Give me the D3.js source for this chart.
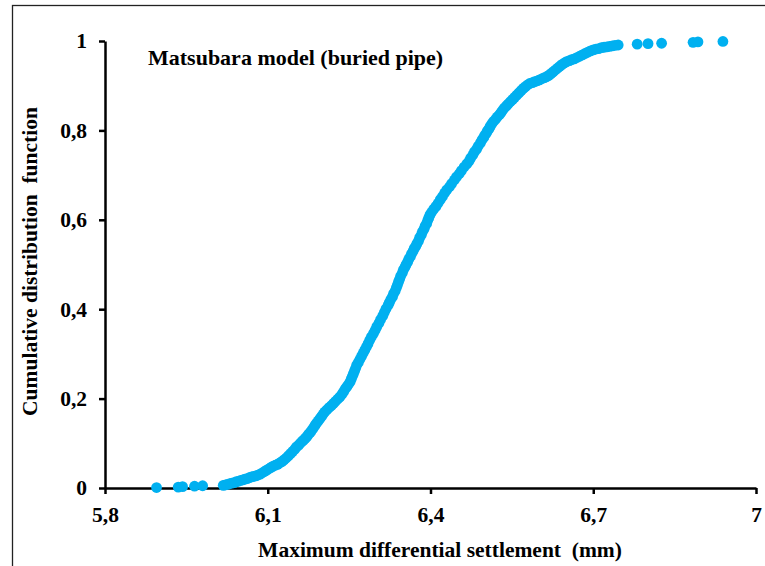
<!DOCTYPE html>
<html>
<head>
<meta charset="utf-8">
<script src="https://cdn.jsdelivr.net/npm/d3@7"></script>
<style>
  html, body { margin: 0; padding: 0; background: #fff; }
  svg text { font-family: "Liberation Serif", "Times New Roman", serif; font-weight: bold; fill: #000; }
</style>
</head>
<body>
<div id="chart"></div>
<script>
// settlement (mm) and cumulative distribution values
const settlement = [
  5.895, 5.935, 5.943, 5.965, 5.980,
  6.018, 6.022, 6.026, 6.030, 6.034, 6.038, 6.042, 6.046, 6.050, 6.054,
  6.058, 6.062, 6.066, 6.070, 6.074, 6.078, 6.082, 6.086, 6.090, 6.094,
  6.098, 6.102, 6.106, 6.110, 6.114, 6.118, 6.122, 6.126, 6.130, 6.134,
  6.138, 6.142, 6.146, 6.150, 6.153,
  6.157, 6.160, 6.163, 6.166, 6.169, 6.172, 6.175, 6.178, 6.181, 6.184,
  6.187, 6.190, 6.193, 6.196, 6.199, 6.202, 6.205, 6.209, 6.213, 6.217,
  6.221, 6.225, 6.229, 6.233, 6.237, 6.240, 6.243, 6.246, 6.249, 6.252,
  6.254, 6.256, 6.258, 6.260, 6.262, 6.264, 6.267, 6.270, 6.273, 6.276,
  6.279, 6.282, 6.285, 6.288, 6.291, 6.295, 6.298, 6.301, 6.305, 6.308,
  6.312, 6.315, 6.318, 6.322,
  6.324, 6.327, 6.330, 6.332, 6.335, 6.337, 6.339, 6.341, 6.343, 6.345,
  6.348, 6.350, 6.353, 6.355, 6.358, 6.360, 6.363, 6.365, 6.368, 6.370,
  6.373, 6.375, 6.378, 6.380, 6.383, 6.385, 6.388, 6.390, 6.393, 6.395,
  6.397, 6.399,
  6.402, 6.406, 6.410, 6.414, 6.418, 6.422, 6.426, 6.430, 6.435, 6.439,
  6.444, 6.448, 6.453, 6.457, 6.462, 6.467, 6.471, 6.474, 6.478, 6.481,
  6.485, 6.488, 6.492, 6.495, 6.498, 6.500, 6.503, 6.505, 6.508, 6.510,
  6.513, 6.516, 6.520, 6.523, 6.527, 6.530, 6.533, 6.536, 6.540, 6.543,
  6.547, 6.551, 6.555, 6.559, 6.563, 6.567, 6.571, 6.575, 6.579, 6.583,
  6.588, 6.592, 6.597, 6.601, 6.606, 6.610, 6.614, 6.618, 6.622, 6.626,
  6.630, 6.634, 6.638, 6.642, 6.647, 6.651, 6.656, 6.660, 6.665, 6.670,
  6.675, 6.680, 6.685, 6.690, 6.695, 6.700, 6.705, 6.710, 6.715, 6.720,
  6.725, 6.730, 6.735, 6.740, 6.746,
  6.781, 6.801, 6.826, 6.884, 6.893, 6.939
];
const cdf = [
  0.001, 0.002, 0.003, 0.004, 0.005,
  0.006, 0.007, 0.008, 0.010, 0.011, 0.012, 0.014, 0.015, 0.017, 0.018,
  0.020, 0.021, 0.023, 0.025, 0.026, 0.027, 0.029, 0.031, 0.034, 0.037,
  0.040, 0.043, 0.046, 0.049, 0.051, 0.053, 0.056, 0.059, 0.063, 0.067,
  0.072, 0.077, 0.082, 0.087, 0.092,
  0.096, 0.100, 0.104, 0.107, 0.111, 0.115, 0.120, 0.124, 0.129, 0.134,
  0.140, 0.145, 0.150, 0.155, 0.160, 0.165, 0.170, 0.175, 0.180, 0.184,
  0.189, 0.194, 0.199, 0.204, 0.210, 0.216, 0.222, 0.227, 0.232, 0.238,
  0.244, 0.250, 0.256, 0.262, 0.268, 0.275, 0.281, 0.288, 0.295, 0.302,
  0.309, 0.316, 0.323, 0.331, 0.338, 0.346, 0.353, 0.361, 0.369, 0.377,
  0.385, 0.393, 0.401, 0.409,
  0.415, 0.422, 0.428, 0.435, 0.441, 0.448, 0.454, 0.461, 0.467, 0.474,
  0.481, 0.488, 0.494, 0.500, 0.506, 0.512, 0.518, 0.524, 0.530, 0.536,
  0.541, 0.547, 0.553, 0.560, 0.566, 0.573, 0.579, 0.586, 0.592, 0.599,
  0.605, 0.611,
  0.617, 0.624, 0.630, 0.637, 0.645, 0.652, 0.660, 0.667, 0.674, 0.681,
  0.689, 0.696, 0.703, 0.710, 0.718, 0.725, 0.731, 0.738, 0.745, 0.752,
  0.758, 0.765, 0.772, 0.779, 0.784, 0.789, 0.794, 0.799, 0.804, 0.809,
  0.815, 0.820, 0.825, 0.830, 0.835, 0.840, 0.845, 0.850, 0.855, 0.859,
  0.864, 0.869, 0.874, 0.879, 0.884, 0.889, 0.894, 0.898, 0.902, 0.905,
  0.907, 0.909, 0.911, 0.913, 0.916, 0.918, 0.920, 0.923, 0.927, 0.931,
  0.935, 0.939, 0.943, 0.947, 0.951, 0.954, 0.956, 0.958, 0.960, 0.963,
  0.966, 0.969, 0.972, 0.975, 0.978, 0.980, 0.982, 0.983, 0.985, 0.986,
  0.987, 0.988, 0.989, 0.990, 0.991,
  0.993, 0.994, 0.995, 0.997, 0.998, 0.999
];
const xTicks = [5.8, 6.1, 6.4, 6.7, 7];
const yTicks = [0, 0.2, 0.4, 0.6, 0.8, 1];

const width = 765, height = 566;
const svg = d3.select("#chart").append("svg")
  .attr("width", width).attr("height", height);

// outer frame (runs off the right and bottom edges)
svg.append("rect")
  .attr("x", 12.5).attr("y", 5.5)
  .attr("width", 900).attr("height", 700)
  .attr("fill", "none").attr("stroke", "#222").attr("stroke-width", 1.3);

const x = d3.scaleLinear().domain([5.8, 7]).range([105, 756]);
const y = d3.scaleLinear().domain([0, 1]).range([488, 41]);
const fmt = d => String(d).replace(".", ",");

const xAxis = svg.append("g")
  .attr("transform", `translate(0,${y(0)})`)
  .call(d3.axisBottom(x).tickValues(xTicks).tickFormat(fmt).tickSize(6).tickSizeOuter(0).tickPadding(13));

const yAxis = svg.append("g")
  .attr("transform", `translate(${x(5.8)},0)`)
  .call(d3.axisLeft(y).tickValues(yTicks).tickFormat(fmt).tickSize(6).tickSizeOuter(0).tickPadding(12));

[xAxis, yAxis].forEach(g => {
  g.selectAll("path, line").attr("stroke", "#000").attr("stroke-width", 2.5);
  g.selectAll("text").attr("font-size", "21.5px").attr("font-family", null).attr("fill", "#000");
});

// points
svg.append("g").selectAll("circle")
  .data(settlement.map((s, i) => [s, cdf[i]]))
  .join("circle")
  .attr("cx", d => x(d[0]))
  .attr("cy", d => y(d[1]))
  .attr("r", 5.4)
  .attr("fill", "#00b0f0");

svg.append("text")
  .attr("x", 148).attr("y", 65)
  .attr("font-size", "22px")
  .text("Matsubara model (buried pipe)");

svg.append("text")
  .attr("x", 440).attr("y", 557)
  .attr("text-anchor", "middle")
  .attr("font-size", "21.5px")
  .style("white-space", "pre")
  .text("Maximum differential settlement  (mm)");

svg.append("text")
  .attr("transform", "translate(37,261.5) rotate(-90)")
  .attr("text-anchor", "middle")
  .attr("font-size", "21.5px")
  .style("white-space", "pre")
  .text("Cumulative distribution  function");
</script>
</body>
</html>
